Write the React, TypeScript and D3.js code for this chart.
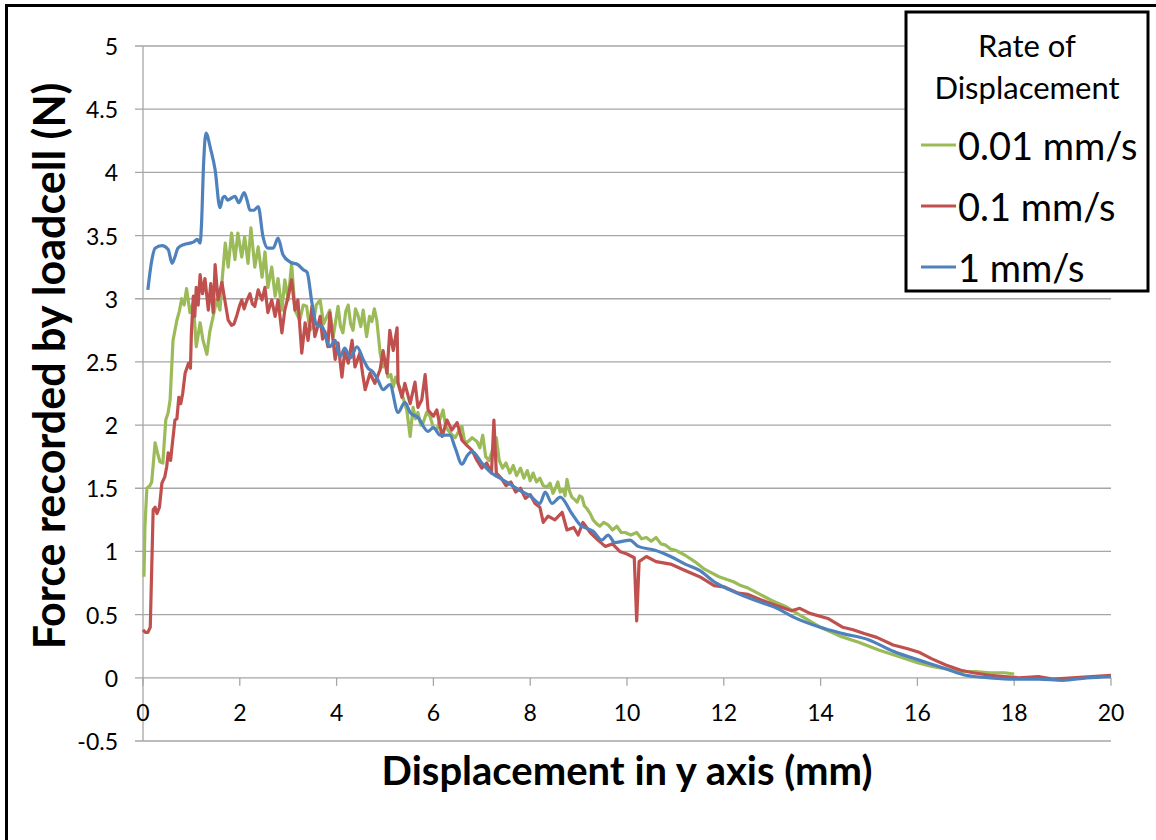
import React from "react";
import * as d3 from "d3";

// axis ticks
const xTicks = [0, 2, 4, 6, 8, 10, 12, 14, 16, 18, 20];
const yTicks = [-0.5, 0, 0.5, 1, 1.5, 2, 2.5, 3, 3.5, 4, 4.5, 5];

const legendTitle = ["Rate of", "Displacement"];
const seriesNames = ["0.01 mm/s", "0.1 mm/s", "1 mm/s"];
const seriesColors = ["#9bbb59", "#c0504d", "#4f81bd"];

// 0.01 mm/s
const dispSlow = [
  0.02, 0.04, 0.08, 0.14, 0.18, 0.25, 0.3, 0.35, 0.41, 0.47, 0.52, 0.56, 0.62, 0.7, 0.75, 0.8, 0.85, 0.9, 0.97,
  1.04, 1.1, 1.18, 1.24, 1.32, 1.38, 1.45, 1.52, 1.59, 1.64, 1.7, 1.76, 1.83, 1.9, 1.96, 2.04, 2.1, 2.17, 2.23,
  2.31, 2.38, 2.46, 2.52, 2.58, 2.66, 2.73, 2.79, 2.87, 2.93, 3.0, 3.07, 3.14, 3.24, 3.31, 3.38, 3.45, 3.51,
  3.58, 3.66, 3.73, 3.8, 3.86, 3.93, 4.03, 4.08, 4.13, 4.19, 4.24, 4.29, 4.34, 4.39, 4.44, 4.5, 4.55, 4.62,
  4.68, 4.73, 4.78, 4.83, 4.9, 4.96, 5.01, 5.06, 5.12, 5.17, 5.22, 5.27, 5.32, 5.37, 5.45, 5.52, 5.58, 5.63,
  5.68, 5.74, 5.79, 5.86, 5.93, 6.0, 6.07, 6.13, 6.2, 6.25, 6.3, 6.37, 6.45, 6.52, 6.59, 6.64, 6.69, 6.8, 6.9,
  6.96, 7.02, 7.08, 7.15, 7.22, 7.3, 7.36, 7.43, 7.5, 7.58, 7.65, 7.72, 7.8, 7.87, 7.94, 8.0, 8.06, 8.13, 8.2,
  8.27, 8.35, 8.41, 8.47, 8.52, 8.57, 8.62, 8.68, 8.72, 8.76, 8.81, 8.86, 8.92, 8.97, 9.02, 9.07, 9.12, 9.17,
  9.24, 9.3, 9.37, 9.44, 9.52, 9.61, 9.7, 9.79, 9.88, 9.96, 10.08, 10.2, 10.3, 10.4, 10.5, 10.6, 10.7, 10.8,
  10.9, 11.0, 11.2, 11.4, 11.6, 11.75, 11.9, 12.05, 12.2, 12.35, 12.5, 12.75, 13.0, 13.3, 13.6, 14.0, 14.4,
  14.8, 15.2, 15.6, 16.0, 16.3, 16.6, 16.9, 17.2, 17.5, 17.8, 18.0,
];
const forceSlow = [
  0.8, 1.2, 1.5, 1.52, 1.55, 1.86, 1.78, 1.71, 1.7, 2.04, 2.1, 2.2, 2.67, 2.83, 2.9, 3.0, 2.95, 3.08, 2.89,
  2.97, 2.62, 2.81, 2.67, 2.56, 2.74, 2.86, 2.99, 2.91, 3.17, 3.44, 3.25, 3.52, 3.31, 3.52, 3.33, 3.49, 3.28, 3.56,
  3.25, 3.41, 3.17, 3.37, 3.09, 3.25, 3.02, 3.16, 2.91, 3.15, 2.99, 3.28, 2.91, 2.83, 2.95, 2.94, 2.75, 2.78,
  2.95, 2.99, 2.8, 2.86, 2.91, 2.7, 2.94, 2.78, 2.73, 2.9, 2.95, 2.8, 2.75, 2.92, 2.87, 2.78, 2.91, 2.7,
  2.86, 2.82, 2.92, 2.83, 2.57, 2.46, 2.52, 2.38, 2.4, 2.3, 2.38, 2.33, 2.28, 2.22, 2.12, 1.91, 2.14, 2.05,
  2.1, 2.0, 2.02, 2.1, 2.07, 1.98, 1.96, 2.04, 2.12, 2.0, 1.96, 1.93, 1.9, 1.95, 1.99, 1.88, 1.86, 1.9, 1.87,
  1.82, 1.92, 1.75, 1.72, 1.8, 1.9, 1.72, 1.66, 1.7, 1.62, 1.68, 1.6, 1.66, 1.58, 1.64, 1.56, 1.62, 1.55, 1.58,
  1.52, 1.51, 1.54, 1.46, 1.5, 1.55, 1.47, 1.49, 1.44, 1.57, 1.48, 1.43, 1.41, 1.39, 1.44, 1.43, 1.36, 1.34,
  1.3, 1.25, 1.22, 1.2, 1.23, 1.21, 1.17, 1.2, 1.15, 1.15, 1.13, 1.15, 1.1, 1.11, 1.08, 1.11, 1.06, 1.05,
  1.02, 1.01, 0.97, 0.92, 0.86, 0.83, 0.8, 0.78, 0.76, 0.73, 0.71, 0.66, 0.61, 0.56, 0.49, 0.4, 0.33,
  0.28, 0.22, 0.17, 0.12, 0.09, 0.07, 0.05, 0.05, 0.04, 0.04, 0.03,
];

// 0.1 mm/s
const dispMid = [
  0.0, 0.05, 0.1, 0.15, 0.21, 0.25, 0.29, 0.34, 0.39, 0.45, 0.49, 0.52, 0.57, 0.6, 0.66, 0.7, 0.74, 0.78, 0.82,
  0.87, 0.94, 0.98, 1.0, 1.04, 1.07, 1.1, 1.14, 1.18, 1.23, 1.28, 1.35, 1.4, 1.45, 1.49, 1.55, 1.63, 1.69, 1.76,
  1.83, 1.88, 1.94, 2.0, 2.04, 2.09, 2.14, 2.21, 2.26, 2.31, 2.38, 2.46, 2.52, 2.58, 2.66, 2.73, 2.79, 2.87,
  2.93, 3.0, 3.07, 3.14, 3.2, 3.28, 3.35, 3.41, 3.49, 3.55, 3.61, 3.66, 3.71, 3.76, 3.82, 3.86, 3.93, 3.97,
  4.03, 4.11, 4.17, 4.24, 4.32, 4.38, 4.48, 4.54, 4.59, 4.69, 4.79, 4.9, 4.96, 5.04, 5.1, 5.17, 5.25, 5.27,
  5.35, 5.41, 5.52, 5.62, 5.68, 5.76, 5.83, 5.89, 6.0, 6.07, 6.18, 6.28, 6.38, 6.49, 6.59, 6.69, 6.8, 6.9,
  7.0, 7.1, 7.2, 7.25, 7.3, 7.4, 7.5, 7.6, 7.7, 7.8, 7.9, 8.0, 8.1, 8.2, 8.27, 8.37, 8.51, 8.66, 8.76, 8.9,
  8.99, 9.09, 9.24, 9.4, 9.55, 9.7, 9.85, 10.0, 10.15, 10.2, 10.25, 10.4, 10.6, 10.9, 11.2, 11.5, 11.8, 12.0,
  12.3, 12.5, 12.75, 13.1, 13.4, 13.57, 13.78, 14.15, 14.46, 14.67, 14.9, 15.16, 15.5, 15.8, 16.05, 16.3,
  16.6, 16.9, 17.15, 17.5, 17.8, 18.1, 18.5, 18.8, 19.2, 19.6, 20.0,
];
const forceMid = [
  0.38, 0.36, 0.36, 0.4, 1.33, 1.35, 1.3, 1.35, 1.54, 1.59, 1.67, 1.78, 1.72, 1.83, 2.04, 2.05, 2.22, 2.17, 2.25,
  2.41, 2.49, 2.45, 2.73, 3.02, 2.86, 3.09, 2.95, 3.19, 3.04, 3.16, 2.91, 3.12, 2.89, 3.27, 2.99, 3.13, 2.99, 2.83,
  2.79, 2.8, 2.87, 2.95, 2.99, 2.92, 2.98, 3.04, 2.96, 2.94, 3.07, 2.99, 3.09, 2.89, 2.99, 2.86, 2.99, 2.73,
  2.91, 3.02, 3.15, 2.91, 2.99, 2.57, 2.81, 2.67, 2.94, 2.7, 2.78, 2.86, 2.68, 2.74, 2.62, 2.89, 2.66, 2.52,
  2.65, 2.38, 2.59, 2.49, 2.67, 2.46, 2.57, 2.4, 2.28, 2.41, 2.33, 2.44, 2.59, 2.41, 2.75, 2.59, 2.77, 2.33,
  2.22, 2.33, 2.17, 2.34, 2.14, 2.2, 2.4, 2.12, 2.07, 2.12, 1.91, 2.04, 1.96, 2.02, 1.88, 1.84, 1.8, 1.72,
  1.66, 1.7, 1.62, 2.04, 1.62, 1.58, 1.52, 1.55, 1.47, 1.5, 1.42, 1.45, 1.38, 1.35, 1.23, 1.28, 1.25, 1.31, 1.17, 1.19,
  1.13, 1.23, 1.15, 1.09, 1.04, 1.06, 1.0, 0.98, 0.95, 0.45, 0.92, 0.96, 0.92, 0.9, 0.85, 0.8, 0.73, 0.72,
  0.67, 0.66, 0.62, 0.57, 0.53, 0.55, 0.51, 0.47, 0.4, 0.38, 0.35, 0.32, 0.26, 0.23, 0.2, 0.15,
  0.1, 0.06, 0.04, 0.02, 0.01, 0.0, 0.01, -0.01, 0.0, 0.01, 0.02,
];

// 1 mm/s
const dispFast = [
  0.1, 0.18, 0.25, 0.39, 0.52, 0.6, 0.66, 0.72, 0.85, 0.97, 1.05, 1.12, 1.18, 1.21, 1.25, 1.3, 1.4, 1.49, 1.59,
  1.65, 1.69, 1.75, 1.8, 1.9, 1.98, 2.09, 2.15, 2.21, 2.29, 2.38, 2.48, 2.58, 2.69, 2.79, 2.89, 3.04, 3.2,
  3.31, 3.39, 3.49, 3.59, 3.7, 3.86, 3.97, 4.07, 4.17, 4.28, 4.42, 4.55, 4.65, 4.75, 4.85, 4.96, 5.1, 5.27,
  5.41, 5.52, 5.68, 5.89, 6.0, 6.14, 6.34, 6.45, 6.59, 6.7, 6.8, 7.0, 7.2, 7.33, 7.55, 7.8, 8.0, 8.2, 8.31,
  8.45, 8.62, 8.86, 9.03, 9.3, 9.48, 9.61, 9.75, 9.9, 10.06, 10.23, 10.58, 10.9, 11.2, 11.5, 11.8, 12.1,
  12.4, 12.75, 13.1, 13.44, 13.99, 14.46, 15.0, 15.5, 16.2, 16.6, 17.0, 17.5, 18.0, 18.5, 19.0, 19.5, 20.0,
];
const forceFast = [
  3.07, 3.3, 3.4, 3.42, 3.39, 3.28, 3.33, 3.4, 3.43, 3.44, 3.45, 3.47, 3.44, 3.6, 4.05, 4.31, 4.18, 4.02, 3.72,
  3.8, 3.81, 3.78, 3.79, 3.81, 3.76, 3.84, 3.78, 3.7, 3.7, 3.73, 3.49, 3.4, 3.4, 3.48, 3.35, 3.29, 3.27,
  3.23, 3.21, 2.97, 2.79, 2.78, 2.62, 2.67, 2.54, 2.61, 2.53, 2.62, 2.52, 2.45, 2.42, 2.36, 2.28, 2.32, 2.1,
  2.18, 2.1, 2.06, 1.95, 1.98, 1.92, 1.92, 1.82, 1.69, 1.76, 1.79, 1.7, 1.62, 1.59, 1.54, 1.48, 1.44, 1.38, 1.47,
  1.38, 1.43, 1.3, 1.21, 1.16, 1.09, 1.13, 1.07, 1.08, 1.09, 1.04, 1.01, 0.96, 0.9, 0.85, 0.76, 0.7,
  0.65, 0.6, 0.55, 0.48, 0.4, 0.35, 0.3, 0.21, 0.12, 0.07, 0.02, 0.0, -0.01, -0.01, -0.02, 0.0, 0.01,
];

const seriesX = [dispSlow, dispMid, dispFast];
const seriesY = [forceSlow, forceMid, forceFast];

const W = 1156;
const H = 840;
const font = "Lato, 'Liberation Sans', sans-serif";

export default function App() {
  const x = d3.scaleLinear().domain([0, 20]).range([143, 1111]);
  const y = d3.scaleLinear().domain([-0.5, 5]).range([741, 46]);

  const makeLine = (xs: number[], ys: number[], smooth: boolean) =>
    d3
      .line<number>()
      .x((d, i) => x(xs[i]))
      .y((d) => y(d))
      .curve(smooth ? d3.curveMonotoneX : d3.curveLinear)(ys) || "";

  return (
    <svg
      width={W}
      height={H}
      style={{ position: "absolute", left: 0, top: 0, background: "#fff" }}
      fontFamily={font}
    >
      <rect x={0} y={0} width={W} height={H} fill="#fff" />
      <rect x={6.5} y={5.5} width={W + 20} height={H + 20} fill="none" stroke="#000" strokeWidth={3} />

      {/* gridlines + y tick labels */}
      {yTicks.map((t) => (
        <g key={"y" + t}>
          <line x1={135} x2={x(20)} y1={y(t)} y2={y(t)} stroke="#a6a6a6" strokeWidth={1.3} />
          <text x={118} y={y(t)} textAnchor="end" dominantBaseline="central" fontSize={23} fill="#000">
            {t}
          </text>
        </g>
      ))}
      <line x1={x(0)} x2={x(0)} y1={y(5)} y2={y(-0.5)} stroke="#a6a6a6" strokeWidth={1.3} />

      {/* x ticks */}
      {xTicks.map((t) => (
        <g key={"x" + t}>
          <line x1={x(t)} x2={x(t)} y1={y(0)} y2={y(0) + 8} stroke="#a6a6a6" strokeWidth={1.3} />
          <text x={x(t)} y={y(0) + 34} textAnchor="middle" dominantBaseline="central" fontSize={23} fill="#000">
            {t}
          </text>
        </g>
      ))}

      {/* series */}
      {seriesX.map((xs, i) => (
        <path
          key={seriesNames[i]}
          d={makeLine(xs, seriesY[i], i === 2)}
          fill="none"
          stroke={seriesColors[i]}
          strokeWidth={3.2}
          strokeLinejoin="round"
        />
      ))}

      {/* axis titles */}
      <text x={627} y={785} textAnchor="middle" fontSize={40} fontWeight="bold" fill="#000">
        Displacement in y axis (mm)
      </text>
      <text
        transform="translate(65,366) rotate(-90)"
        textAnchor="middle"
        fontSize={43}
        fontWeight="bold"
        fill="#000"
      >
        Force recorded by loadcell (N)
      </text>

      {/* legend */}
      <rect x={906} y={12} width={242} height={279} fill="#fff" stroke="#000" strokeWidth={3} />
      {legendTitle.map((s, i) => (
        <text key={s} x={1027} y={45 + i * 42} textAnchor="middle" dominantBaseline="central" fontSize={31} fill="#000">
          {s}
        </text>
      ))}
      {seriesNames.map((s, i) => (
        <g key={"lg" + s}>
          <line x1={921} x2={956} y1={145 + i * 61} y2={145 + i * 61} stroke={seriesColors[i]} strokeWidth={3} />
          <text x={958} y={145 + i * 61} dominantBaseline="central" fontSize={38} fill="#000">
            {s}
          </text>
        </g>
      ))}
    </svg>
  );
}
